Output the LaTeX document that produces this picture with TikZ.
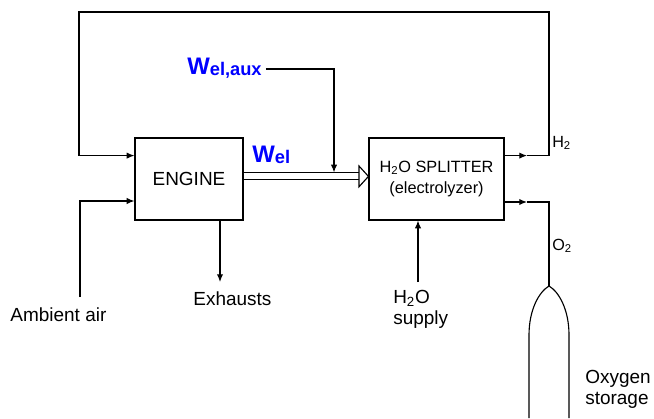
\documentclass[tikz,border=0pt]{standalone}
\usepackage{fontspec}
\setmainfont{Liberation Sans}
\usetikzlibrary{arrows.meta,positioning,calc}

\newcommand{\wpow}[1]{{\fontsize{17}{20}\selectfont W}\raisebox{-0.12ex}{\fontsize{13}{16}\selectfont #1}}

\begin{document}
\begin{tikzpicture}[
    block/.style={draw, rectangle, line width=0.8pt, minimum width=2.7cm, minimum height=2.05cm, font=\fontsize{13.5}{16}\selectfont},
    flow/.style={-{Latex[length=5.5pt,width=4.5pt]}, line width=0.8pt},
    pipe/.style={line width=0.8pt},
    txt/.style={font=\fontsize{13.5}{15}\selectfont, inner sep=0pt, align=left},
    gas/.style={font=\fontsize{11.5}{14}\selectfont, inner sep=0pt},
    power/.style={font=\bfseries, text=blue, inner sep=0pt},
]
\useasboundingbox (0,0) rectangle (16.35,10.45);

% Units
\node[block] (engine) at (4.725, 5.975) {ENGINE};
\node[block, minimum width=3.375cm, align=center, font=\fontsize{11.6}{15}\selectfont] (split) at (10.9125, 5.975) {H\textsubscript{2}O SPLITTER\\(electrolyzer)};

% Electric power to the splitter
\coordinate (pw) at (6.1, 6.04);
\coordinate (pwhead) at (8.975, 6.04);
\draw[line width=0.8pt, double, double distance=0.145cm] (engine.east |- pw) -- (pwhead);
\draw[pipe, fill=white] ([yshift=0.26cm]pwhead) -- (split.west |- pw) -- ([yshift=-0.26cm]pwhead) -- cycle;
\node[power, anchor=base west] (wel) at (6.3, 6.375) {\wpow{el}};
\node[power, anchor=base west] (waux) at (4.675, 8.575) {\wpow{el,aux}};
\coordinate (auxc) at (8.35, 8.725);
\coordinate (auxin) at (8.35, 6.14);
\draw[flow] ([xshift=0.1cm]waux.east |- auxc) -| (auxin);

% Hydrogen loop
\coordinate (h2a) at (13.175, 6.56);
\coordinate (h2b) at (13.725, 6.56);
\coordinate (h2c) at (13.725, 10.15);
\coordinate (h2d) at (1.975, 10.15);
\coordinate (h2e) at (1.975, 6.56);
\draw[flow] (split.east |- h2a) -- (h2a);
\draw[pipe] (h2a) -- (h2b) -- (h2c) -- (h2d) -- (h2e);
\draw[flow] (h2e) -- (engine.west |- h2e);
\node[gas, anchor=west] (h2) at (13.8, 6.875) {H\textsubscript{2}};

% Air and exhausts
\node[txt] (airtxt) at (1.46, 2.575) {Ambient air};
\coordinate (air) at (2.0, 3.025);
\coordinate (airin) at (2.0, 5.425);
\draw[flow] (air) -- (airin) -- (engine.west |- airin);
\coordinate (exh) at (5.5, 3.4);
\draw[flow] (engine.south -| exh) -- (exh);
\node[txt] (exhtxt) at (5.81, 2.975) {Exhausts};

% Water supply
\coordinate (h2oin) at (10.45, 3.4);
\draw[flow] (h2oin) -- (split.south -| h2oin);
\node[txt, anchor=north west] (h2otxt) at (9.825, 3.2) {H\textsubscript{2}O\\supply};

% Oxygen to storage
\coordinate (o2a) at (13.175, 5.4);
\coordinate (o2b) at (13.725, 5.4);
\coordinate (tank) at (13.725, 3.3);
\draw[flow] (split.east |- o2a) -- (o2a);
\draw[pipe] (o2a) -- (o2b) -- (tank);
\node[gas, anchor=west] (o2) at (13.8, 4.3) {O\textsubscript{2}};
\draw[pipe] (13.225, 0) -- (13.225, 2.075) .. controls (13.225, 2.7) and (13.47, 3.15) .. (tank)
  .. controls (13.98, 3.15) and (14.225, 2.7) .. (14.225, 2.075) -- (14.225, 0);
\node[txt, anchor=north west] (oxtxt) at (14.625, 1.2) {Oxygen\\storage};

\end{tikzpicture}
\end{document}
